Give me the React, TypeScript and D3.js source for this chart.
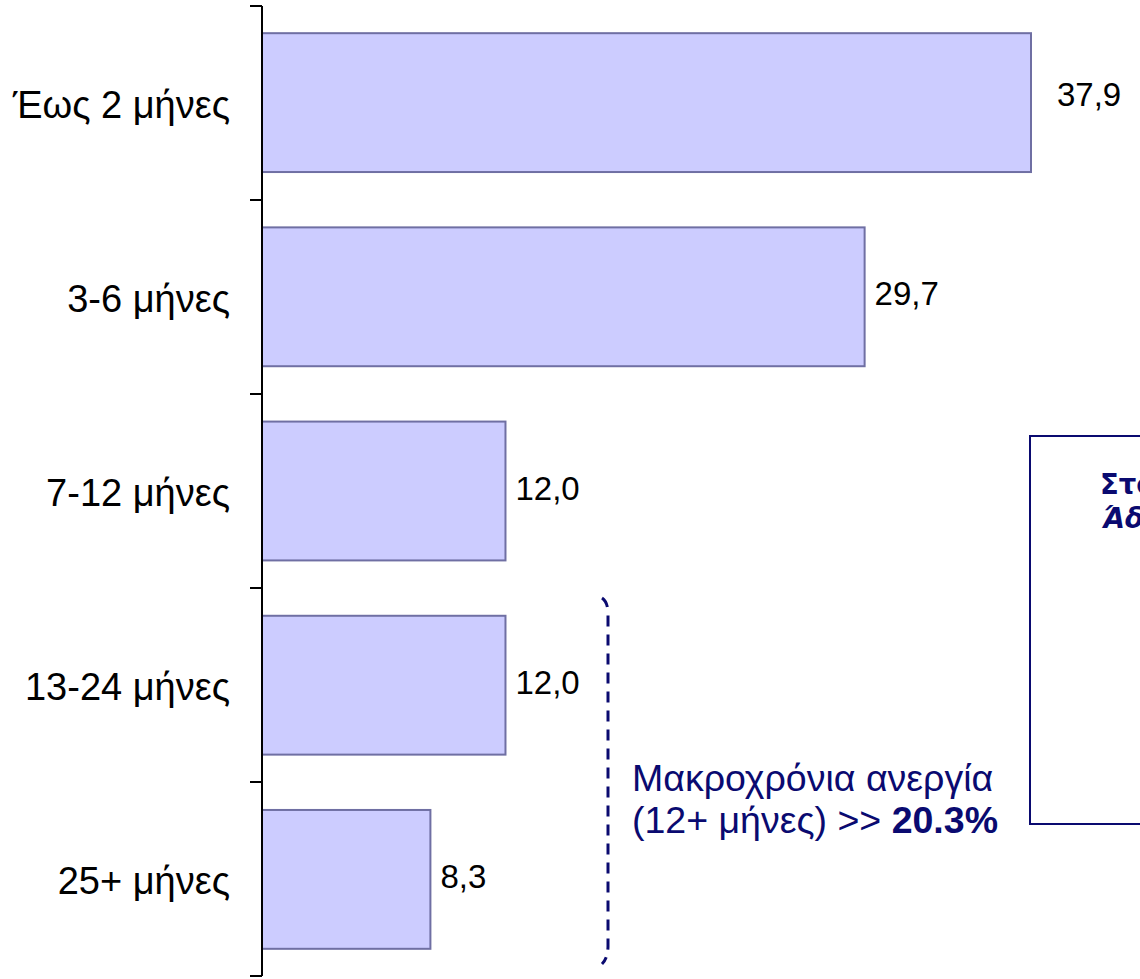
import React from "react";
import * as d3 from "d3";

const categories = ["Έως 2 μήνες", "3-6 μήνες", "7-12 μήνες", "13-24 μήνες", "25+ μήνες"];
const values = [37.9, 29.7, 12.0, 12.0, 8.3];
const valueLabels = ["37,9", "29,7", "12,0", "12,0", "8,3"];
const labelNudge = [26, 10, 10, 10, 10];
const bracketCategories = ["13-24 μήνες", "25+ μήνες"];
const noteLine1 = "Μακροχρόνια ανεργία";
const noteLine2a = "(12+ μήνες) >> ";
const noteLine2b = "20.3%";
const boxLine1 = "Στοιχεία ΟΑΕΔ";
const boxLine2 = "Άδεια εργασίας";

const W = 1140;
const H = 979;
const FONT = "'Liberation Sans', Arial, sans-serif";
const NAVY = "#0a0a70";

export default function App() {
  const y = d3.scaleBand<string>().domain(categories).range([6, 976]).paddingInner(0.285).paddingOuter(0.14);
  const x = d3.scaleLinear().domain([0, 40]).range([262, 262 + (1031 - 262) / 37.9 * 40]);
  const yTicks = d3.scaleBand<string>().domain(categories).range([6, 976]);

  const bTop = yTicks(bracketCategories[0]) as number;
  const bBot = (yTicks(bracketCategories[1]) as number) + yTicks.bandwidth();
  const bx = 608;
  const bracketPath = `M${bx - 6},${bTop + 10} Q${bx},${bTop + 14} ${bx},${bTop + 26} L${bx},${bBot - 30} Q${bx},${bBot - 18} ${bx - 6},${bBot - 12}`;

  return (
    <svg width={W} height={H} style={{ position: "absolute", left: 0, top: 0, background: "#fff" }} fontFamily={FONT}>
      {categories.map((c, i) => (
        <g key={c}>
          <rect
            x={x(0)}
            y={y(c)}
            width={x(values[i]) - x(0)}
            height={y.bandwidth()}
            fill="#CCCCFF"
            stroke="#6F6FA3"
            strokeWidth={2}
          />
          <text
            x={x(values[i]) + labelNudge[i]}
            y={(y(c) as number) + y.bandwidth() / 2 + (i === 0 ? -8 : -3)}
            dominantBaseline="central"
            fontSize={33}
            fill="#000"
          >
            {valueLabels[i]}
          </text>
          <text
            x={230}
            y={(y(c) as number) + y.bandwidth() / 2 + 2}
            dominantBaseline="central"
            textAnchor="end"
            fontSize={38}
            fill="#000"
          >
            {c}
          </text>
        </g>
      ))}
      <line x1={262} x2={262} y1={6} y2={976} stroke="#000" strokeWidth={2} />
      {[...categories.map((c) => yTicks(c) as number), 976].map((t, i) => (
        <line key={i} x1={250} x2={262} y1={t} y2={t} stroke="#000" strokeWidth={2} />
      ))}
      <path d={bracketPath} fill="none" stroke={NAVY} strokeWidth={3} strokeDasharray="11,8" />
      <text x={632} y={791} fontSize={37.5} fill={NAVY}>{noteLine1}</text>
      <text x={632} y={833} fontSize={37.5} fill={NAVY}>
        {noteLine2a}
        <tspan fontWeight="bold">{noteLine2b}</tspan>
      </text>
      <rect x={1030} y={436} width={200} height={388} fill="none" stroke={NAVY} strokeWidth={2} />
      <text x={1100} y={494} fontSize={27.5} fontWeight="bold" fill={NAVY} fontFamily="'DejaVu Sans', sans-serif">{boxLine1}</text>
      <text x={1103} y={528} fontSize={27.5} fontWeight="bold" fontStyle="italic" fill={NAVY} fontFamily="'DejaVu Sans', sans-serif">{boxLine2}</text>
    </svg>
  );
}
